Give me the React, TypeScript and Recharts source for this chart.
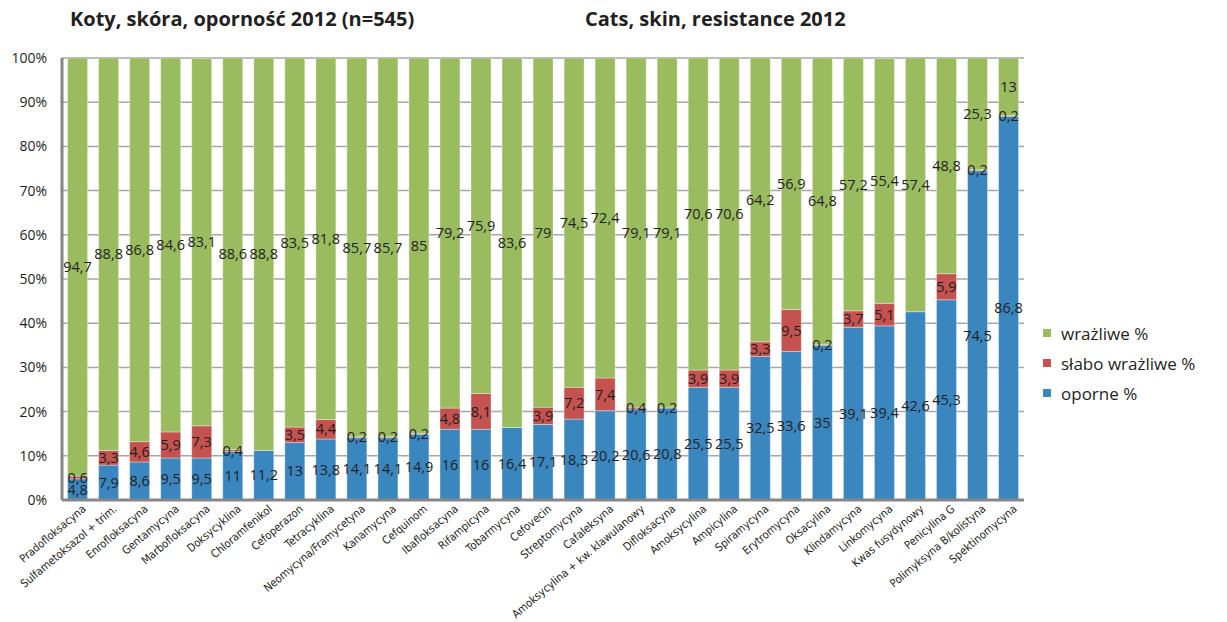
import React from 'react';
import { BarChart, Bar, XAxis, YAxis, CartesianGrid, LabelList } from 'recharts';

const categories = [
  'Pradofloksacyna', 'Sulfametoksazol + trim.', 'Enrofloksacyna', 'Gentamycyna', 'Marbofloksacyna',
  'Doksycyklina', 'Chloramfenikol', 'Cefoperazon', 'Tetracyklina', 'Neomycyna/Framycetyna',
  'Kanamycyna', 'Cefquinom', 'Ibafloksacyna', 'Rifampicyna', 'Tobarmycyna', 'Cefovecin',
  'Streptomycyna', 'Cafaleksyna', 'Amoksycylina + kw. klawulanowy', 'Difloksacyna', 'Amoksycylina',
  'Ampicylina', 'Spiramycyna', 'Erytromycyna', 'Oksacylina', 'Klindamycyna', 'Linkomycyna',
  'Kwas fusydynowy', 'Penicylina G', 'Polimyksyna B/kolistyna', 'Spektinomycyna',
];
const oporne = [4.8, 7.9, 8.6, 9.5, 9.5, 11, 11.2, 13, 13.8, 14.1, 14.1, 14.9, 16, 16, 16.4, 17.1, 18.3, 20.2, 20.6, 20.8, 25.5, 25.5, 32.5, 33.6, 35, 39.1, 39.4, 42.6, 45.3, 74.5, 86.8];
const slabo = [0.6, 3.3, 4.6, 5.9, 7.3, 0.4, 0, 3.5, 4.4, 0.2, 0.2, 0.2, 4.8, 8.1, 0, 3.9, 7.2, 7.4, 0.4, 0.2, 3.9, 3.9, 3.3, 9.5, 0.2, 3.7, 5.1, 0, 5.9, 0.2, 0.2];
const wrazliwe = [94.7, 88.8, 86.8, 84.6, 83.1, 88.6, 88.8, 83.5, 81.8, 85.7, 85.7, 85, 79.2, 75.9, 83.6, 79, 74.5, 72.4, 79.1, 79.1, 70.6, 70.6, 64.2, 56.9, 64.8, 57.2, 55.4, 57.4, 48.8, 25.3, 13];
const yTicks = [0, 10, 20, 30, 40, 50, 60, 70, 80, 90, 100];

const seriesNames = { oporne: 'oporne %', slabo: 'słabo wrażliwe %', wrazliwe: 'wrażliwe %' };
const colors = { oporne: '#3A87C0', slabo: '#C4524F', wrazliwe: '#9BBB5F' };
const legendOrder: Array<keyof typeof colors> = ['wrazliwe', 'slabo', 'oporne'];

const data = categories.map((name, i) => ({
  name,
  oporne: oporne[i],
  slabo: slabo[i],
  wrazliwe: wrazliwe[i],
}));

const fmt = (v: any) => String(v).replace('.', ',');
const labelFont = "'Open Sans', 'DejaVu Sans', sans-serif";
const tickFont = "'Liberation Sans Narrow', 'DejaVu Sans Condensed', 'Roboto', sans-serif";

const XTick = (props: any) => {
  const { x, y, payload } = props;
  const tx = x + 4;
  const ty = y + 2;
  return (
    <text
      x={tx}
      y={ty}
      transform={`rotate(-40, ${tx}, ${ty})`}
      textAnchor="end"
      fontSize={11.2}
      fontFamily={tickFont}
      fill="#231F20"
      dominantBaseline="hanging"
    >
      {payload.value}
    </text>
  );
};

export default function App() {
  return (
    <div style={{ position: 'absolute', left: 0, top: 0, width: 1227, height: 622, background: '#fff', overflow: 'hidden' }}>
      <div style={{ position: 'absolute', left: 70, top: 5, fontFamily: labelFont, fontWeight: 700, fontSize: 20, color: '#231F20', whiteSpace: 'nowrap' }}>
        Koty, skóra, oporność 2012 (n=545)
      </div>
      <div style={{ position: 'absolute', left: 585, top: 5, fontFamily: labelFont, fontWeight: 700, fontSize: 20, color: '#231F20', whiteSpace: 'nowrap' }}>
        Cats, skin, resistance 2012
      </div>
      <div style={{ position: 'absolute', left: 1043, top: 318, fontFamily: labelFont, fontSize: 17, color: '#231F20' }}>
        {legendOrder.map((k) => (
          <div key={k} style={{ display: 'flex', alignItems: 'center', height: 30, whiteSpace: 'nowrap' }}>
            <span style={{ width: 8, height: 8, background: colors[k], display: 'inline-block', marginRight: 10 }} />
            <span>{seriesNames[k]}</span>
          </div>
        ))}
      </div>
      <BarChart
        width={1227}
        height={622}
        data={data}
        margin={{ top: 58, right: 203, bottom: 0, left: 0 }}
        barCategoryGap="18%"
      >
        <CartesianGrid vertical={false} stroke="#A6A6A6" strokeWidth={1.5} />
        <XAxis
          dataKey="name"
          interval={0}
          height={122}
          tick={<XTick />}
          tickLine={false}
          tickSize={0}
          axisLine={{ stroke: '#868686', strokeWidth: 3 }}
        />
        <YAxis
          width={62}
          domain={[0, 100]}
          ticks={yTicks}
          allowDataOverflow
          tickFormatter={(v: number) => `${v}%`}
          tickLine={false}
          tickSize={0}
          tickMargin={15}
          axisLine={{ stroke: '#868686', strokeWidth: 3 }}
          tick={{ fontSize: 14, fontFamily: labelFont, fill: '#231F20' }}
        />
        {(['oporne', 'slabo', 'wrazliwe'] as const).map((k) => (
          <Bar
            key={k}
            dataKey={k}
            name={seriesNames[k]}
            stackId="a"
            fill={colors[k]}
            stroke="#ffffff"
            strokeOpacity={0.35}
            strokeWidth={1}
            isAnimationActive={false}
          >
            <LabelList
              dataKey={k}
              position="center"
              formatter={fmt}
              style={{ fontSize: 14.5, fontFamily: labelFont, fill: '#231F20' }}
            />
          </Bar>
        ))}
      </BarChart>
    </div>
  );
}
